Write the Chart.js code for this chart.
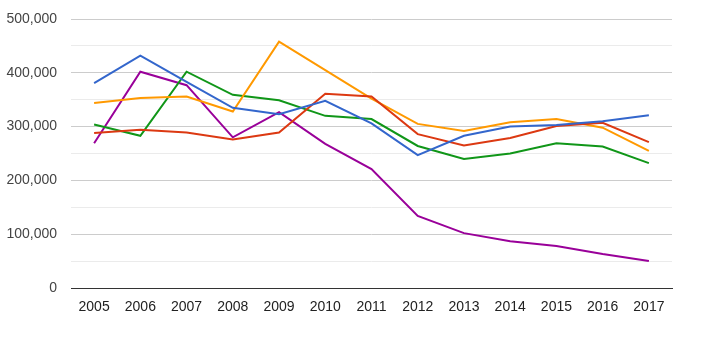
<!DOCTYPE html>
<html>
<head>
<meta charset="utf-8">
<script src="https://cdn.jsdelivr.net/npm/chart.js@4"></script>
<style>
  html, body { margin: 0; padding: 0; background: #fff; }
  #wrap { width: 703px; height: 351px; }
</style>
</head>
<body>
<div id="wrap"><canvas id="chart"></canvas></div>
<script>
const years = ["2005", "2006", "2007", "2008", "2009", "2010", "2011", "2012", "2013", "2014", "2015", "2016", "2017"];

const blueSeries   = [381000, 432000, 383000, 335000, 323000, 348000, 306000, 247000, 283000, 300000, 303000, 310000, 321000];
const redSeries    = [288000, 294000, 289000, 276000, 289000, 361000, 356000, 286000, 265000, 279000, 301000, 307000, 271000];
const orangeSeries = [344000, 353000, 356000, 328000, 458000, 405000, 352000, 305000, 292000, 308000, 314000, 298000, 255000];
const greenSeries  = [304000, 283000, 402000, 359000, 349000, 320000, 314000, 264000, 240000, 250000, 269000, 263000, 232000];
const purpleSeries = [269000, 402000, 377000, 280000, 327000, 268000, 221000, 134000, 102000, 87000, 78000, 63000, 50000];

const yMax = 500000;
const yStep = 50000;

const fontFamily = '"Liberation Sans", Arial, sans-serif';

function line(data, color) {
  return {
    data: data,
    borderColor: color,
    backgroundColor: color,
    borderWidth: 2,
    pointRadius: 0,
    tension: 0,
    fill: false,
  };
}

new Chart(document.getElementById("chart"), {
  type: "line",
  data: {
    labels: years,
    datasets: [
      line(blueSeries, "#3366cc"),
      line(redSeries, "#dc3912"),
      line(orangeSeries, "#ff9900"),
      line(greenSeries, "#109618"),
      line(purpleSeries, "#990099"),
    ],
  },
  options: {
    responsive: true,
    maintainAspectRatio: false,
    animation: false,
    layout: {
      padding: { top: 19, right: 31, bottom: 0, left: 0 },
    },
    plugins: {
      legend: { display: false },
      tooltip: { enabled: false },
    },
    scales: {
      x: {
        offset: true,
        grid: { display: false, drawTicks: false },
        border: { display: true, color: "#333", width: 1 },
        ticks: {
          color: "#222",
          padding: 11,
          maxRotation: 0,
          autoSkip: false,
          font: { family: fontFamily, size: 14 },
        },
        afterFit: (axis) => { axis.height = 63; },
      },
      y: {
        min: 0,
        max: yMax,
        grid: {
          drawTicks: false,
          color: (ctx) => {
            const v = ctx.tick ? ctx.tick.value : 0;
            if (v === 0) return "rgba(0,0,0,0)"; // x border draws the zero line
            return v % 100000 === 0 ? "#cccccc" : "#ebebeb";
          },
        },
        border: { display: false },
        ticks: {
          stepSize: yStep,
          padding: 14,
          color: "#444",
          font: { family: fontFamily, size: 14 },
          callback: (v) => (v % 100000 === 0 ? v.toLocaleString("en-US") : ""),
        },
        afterFit: (axis) => {
          axis.width = 71;
          axis.paddingTop = 0;
          axis.paddingBottom = 0;
        },
      },
    },
  },
});
</script>
</body>
</html>
